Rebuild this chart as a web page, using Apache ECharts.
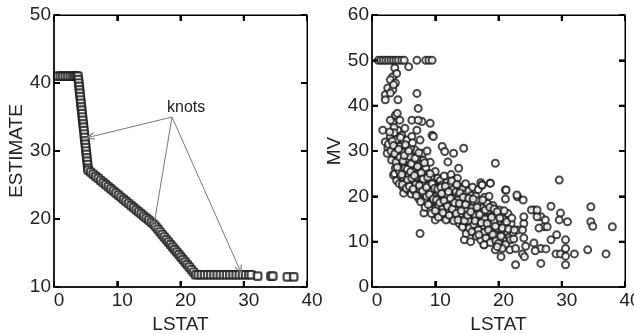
<!DOCTYPE html>
<html><head><meta charset="utf-8">
<script src="https://cdn.jsdelivr.net/npm/echarts@6/dist/echarts.min.js"></script>
<style>html,body{margin:0;padding:0;background:#fff}#c{width:634px;height:334px}</style>
</head><body><div id="c"></div>
<script>
// Left panel: fitted ESTIMATE vs LSTAT
const estimatePoints = [
[0.6,41],[1.0,41],[1.4,41],[1.8,41],[2.2,41],[2.6,41],[3.0,41],[3.3,41],[3.6,41],
[3.8,41.0],[3.86,40.5],[3.92,40.0],[3.97,39.5],[4.03,39.0],[4.09,38.5],[4.15,38.0],[4.21,37.5],[4.26,37.0],[4.32,36.5],[4.38,36.0],[4.44,35.5],[4.50,35.0],[4.55,34.5],[4.61,34.0],[4.67,33.5],[4.73,33.0],[4.79,32.5],[4.84,32.0],[4.90,31.5],[4.96,31.0],[5.02,30.5],[5.08,30.0],[5.13,29.5],[5.19,29.0],[5.25,28.5],[5.31,28.0],[5.37,27.5],
[5.4,27.2],[5.8,26.89],[6.2,26.58],[6.6,26.28],[7.0,25.97],[7.4,25.66],[7.8,25.35],[8.2,25.05],[8.6,24.74],[9.0,24.43],[9.4,24.12],[9.8,23.82],[10.2,23.51],[10.6,23.2],[11.0,22.89],[11.4,22.58],[11.8,22.28],[12.2,21.97],[12.6,21.66],[13.0,21.35],[13.4,21.05],[13.8,20.74],[14.2,20.43],[14.6,20.12],[15.0,19.82],[15.4,19.51],[15.8,19.2],
[16.13,18.83],[16.46,18.46],[16.79,18.09],[17.12,17.72],[17.45,17.35],[17.78,16.98],[18.11,16.61],[18.44,16.24],[18.77,15.87],[19.1,15.5],[19.43,15.13],[19.76,14.76],[20.09,14.39],[20.42,14.02],[20.75,13.65],[21.08,13.28],[21.41,12.91],[21.74,12.54],[22.07,12.17],[22.4,11.8],
[22.8,11.8],[23.3,11.8],[23.8,11.8],[24.3,11.8],[24.8,11.8],[25.3,11.8],[25.8,11.8],[26.3,11.8],[26.8,11.8],[27.3,11.8],[27.8,11.8],[28.3,11.8],[28.8,11.8],[29.3,11.8],[29.8,11.8],[30.3,11.8],[30.8,11.8],[31.2,11.8],
[32.2,11.6],[34.3,11.6],[34.6,11.6],[36.9,11.5],[37.9,11.5]
];
// knot annotation: label and arrow tips
const knotLabel = 'knots';
const knotOrigin = [18.66, 35.0];
const knotTips = [[5.69, 32.06], [15.8, 19.1], [29.4, 12.5]];
// tick values
const xTicks = [0, 10, 20, 30, 40];
const estTicks = [10, 20, 30, 40, 50];
const mvTicks = [0, 10, 20, 30, 40, 50, 60];

const mvPoints = [
[1.0,50],[1.4,50],[1.8,50],[2.2,50],[2.6,50],[3.0,50],[3.4,50],[3.8,50],[4.2,50],[4.7,50],[5.1,50],[5.8,48.6],[7.1,50],[8.5,50],[9.0,50],[9.5,50],
[3.6,48.3],[3.3,46.4],[2.9,45.7],[3.7,45.0],[2.5,43.9],[3.3,43.5],[2.1,42.4],[2.9,42.8],[4.1,41.3],[2.1,41.3],[3.4,44.6],[3.9,47.1],
[7.1,42.7],[7.3,39.4],[1.7,34.6],[3.4,24.7],[7.6,11.8],[9.2,36.1],[9.5,33.5],[10.0,14.8],
[3.7,37.9],[3.3,36.3],[4.4,36.8],[2.9,36.8],[4.1,34.6],[3.5,35.2],[4.0,38.3],[2.9,33.2],[2.5,30.7],[3.3,28.7],[3.7,26.2],[5.5,32.4],[6.3,33.2],[7.1,34.6],[7.9,36.5],[9.7,33.2],[7.6,32.4],[6.8,30.2],[8.1,28.0],[5.5,29.5],[6.3,36.8],[7.3,36.8],[4.0,32.4],[5.0,31.0],
[2.1,32.0],[2.4,29.5],[2.6,31.5],[3.1,28.0],[3.5,34.0],[3.5,30.5],[3.6,25.0],[3.8,32.5],[3.9,23.5],[4.1,29.0],[4.2,27.5],[4.3,22.8],[4.4,31.0],[4.5,24.5],[4.6,26.5],[4.7,33.5],[4.8,29.8],[4.9,22.0],[5.0,24.0],[5.0,20.7],[5.1,27.0],[5.2,35.0],[5.3,23.0],[5.4,25.5],[5.6,21.5],[5.7,28.0],[5.8,24.5],[5.9,26.8],[6.0,22.8],[6.1,30.5],[6.2,20.5],[6.4,25.0],[6.5,27.5],[6.6,23.5],[6.7,21.2],[6.9,26.0],[7.0,24.2],[7.1,28.7],[7.2,22.0],[7.4,19.5],[7.5,25.8],[7.7,23.0],[7.8,27.0],[7.9,20.8],[8.0,29.5],[8.2,24.5],[8.2,16.3],[8.3,21.8],[8.4,19.0],[8.5,26.2],[8.6,23.2],[8.7,30.0],[8.8,20.5],[8.9,25.0],[9.0,22.0],[9.2,27.5],[9.3,18.5],[9.4,24.0],[9.5,20.0],[9.6,21.5],[9.8,23.0],[9.9,19.0],[10.0,25.5],[10.1,17.5],[10.2,22.0],[10.3,20.5],[10.4,24.0],[10.5,18.0],[10.6,16.5],[10.7,21.5],[10.8,23.5],[10.9,19.5],[11.0,15.5],[11.1,31.0],[11.1,22.5],[11.2,17.5],[11.3,20.0],[11.4,24.5],[11.5,29.9],[11.5,18.5],[11.6,16.0],[11.7,21.5],[11.8,23.0],[11.9,19.2],[12.0,27.6],[12.0,15.0],[12.1,17.0],[12.2,20.5],[12.3,22.5],[12.4,18.0],[12.5,24.8],[12.6,16.0],[12.7,19.5],[12.8,21.5],[12.9,29.5],[12.9,17.5],[13.0,23.5],[13.1,15.2],[13.2,19.8],[13.3,21.0],[13.4,18.2],[13.5,24.0],[13.6,16.5],[13.7,26.2],[13.7,20.2],[13.8,14.0],[13.9,22.0],[14.0,17.8],[14.1,19.5],[14.2,15.5],[14.3,21.5],[14.4,13.5],[14.5,30.6],[14.5,18.8],[14.6,10.4],[14.6,16.8],[14.7,20.5],[14.8,22.8],[14.9,14.5],[15.0,19.0],[15.1,17.2],[15.2,12.5],[15.3,21.2],[15.4,15.5],[15.5,18.5],[15.6,10.0],[15.6,13.8],[15.7,20.2],[15.8,16.2],[15.9,22.0],[16.0,14.5],[16.1,18.8],[16.2,12.0],[16.3,17.0],[16.4,20.0],[16.5,15.2],[16.6,13.2],[16.7,19.0],[16.8,21.5],[16.9,11.5],[16.9,16.5],[17.0,14.0],[17.1,18.0],[17.2,23.0],[17.3,12.8],[17.4,22.5],[17.4,15.5],[17.5,17.5],[17.6,13.5],[17.7,9.3],[17.8,19.8],[17.9,14.8],[18.0,16.2],[18.1,12.2],[18.2,18.5],[18.3,13.8],[18.4,15.2],[18.5,20.0],[18.6,11.0],[18.7,22.9],[18.7,14.2],[18.8,16.8],[18.9,12.8],[19.0,15.0],[19.1,18.0],[19.2,13.2],[19.3,10.5],[19.4,16.0],[19.5,27.3],[19.5,8.2],[19.6,14.0],[19.7,12.0],[19.8,15.8],[19.9,11.2],[20.0,13.5],[20.1,17.0],[20.2,10.2],[20.3,14.5],[20.4,6.7],[20.5,12.5],[20.6,8.9],[20.7,15.0],[20.8,11.5],[21.0,13.8],[21.1,21.4],[21.1,19.4],[21.2,10.5],[21.4,12.2],[21.5,16.2],[21.7,11.0],[21.9,10.4],[22.0,14.0],[22.3,12.0],
[3.2,32.2],[3.9,30.0],[4.3,25.6],[4.6,28.2],[5.2,26.2],[5.6,23.6],[6.0,28.8],[6.3,24.0],[6.6,26.9],[6.9,22.6],[7.3,25.0],[7.6,21.4],[7.9,24.0],[8.3,23.0],[8.6,20.0],[8.9,22.4],[9.3,21.0],[9.7,22.6],[10.0,20.0],[10.5,21.0],[11.0,18.8],[11.4,21.2],[11.9,20.4],[12.3,19.0],[12.8,18.4],[13.2,17.0],[13.6,19.2],[14.0,16.2],[14.4,18.0],[14.9,17.0],[15.3,14.6],[15.8,17.4],[16.3,15.8],[16.8,14.0],[17.3,16.4],[17.8,15.0],[18.3,16.8],[18.8,13.6],[19.3,14.6],[19.8,13.0],
[2.8,34.2],[3.0,30.0],[3.4,31.2],[3.6,29.4],[3.8,27.6],[4.0,26.4],[4.2,30.4],[4.4,28.6],[4.5,33.0],[4.7,24.8],[4.8,22.6],[4.9,27.8],[5.1,29.0],[5.3,31.4],[5.4,21.8],[5.6,26.0],[5.8,30.0],[5.9,22.2],[6.1,25.4],[6.2,27.2],[6.4,31.8],[6.5,21.6],[6.7,24.6],[6.8,28.4],[7.0,20.2],[7.2,26.6],[7.4,29.6],[7.5,22.4],[7.7,18.8],[7.8,25.2],[8.0,21.2],[8.1,23.8],[8.3,27.4],[8.4,17.6],[8.6,22.0],[8.8,24.2],[8.9,18.2],[9.1,20.4],[9.2,25.0],[9.4,16.2],[9.5,22.8],[9.7,19.4],[9.9,21.8],[10.0,16.8],[10.2,19.2],[10.4,21.6],[10.5,15.4],[10.7,18.6],[10.9,22.0],[11.0,20.6],[11.2,16.4],[11.4,19.0],[11.6,22.2],[11.7,14.8],[11.9,17.8],[12.1,21.0],[12.2,15.8],[12.4,19.6],[12.6,23.4],[12.7,17.2],[12.9,14.6],[13.1,18.6],[13.3,16.2],[13.4,22.6],[13.6,14.8],[13.8,18.4],[13.9,20.8],[14.1,16.8],[14.3,13.2],[14.4,19.8],[14.6,14.6],[14.8,18.2],[14.9,11.8],[15.1,15.8],[15.3,19.6],[15.4,13.0],[15.6,16.6],[15.8,12.2],[16.0,19.4],[16.1,13.8],[16.3,14.6],[16.5,11.2],[16.6,17.6],[16.8,12.6],[17.0,16.0],[17.2,10.4],[17.3,14.2],[17.5,19.2],[17.7,12.0],[17.9,17.0],[18.0,10.8],[18.2,14.0],[18.4,12.6],[18.6,17.6],[18.7,9.8],[18.9,15.4],[19.1,11.6],[19.3,17.2],[19.5,13.4],[19.6,10.2],[19.8,16.6],[20.0,9.6],[20.2,15.2],[20.4,11.2],[20.6,13.0],[20.9,16.8],[21.1,9.4],[21.3,14.4],[21.6,12.8],[21.8,8.2],[22.1,15.2],[22.4,10.6],
[22.7,4.9],[22.7,8.5],[23.0,12.6],[24.0,14.0],[23.8,12.6],[24.0,10.8],[24.3,9.0],[23.8,7.3],[23.0,19.9],[23.9,19.2],[25.6,17.0],[26.7,15.5],[27.2,13.3],[26.4,13.0],[25.6,9.7],[26.7,8.5],[26.7,5.2],[28.3,17.8],[28.3,10.4],[29.2,11.5],[29.8,16.3],[29.6,14.8],[30.9,14.4],[29.1,7.3],[29.8,7.3],[30.6,8.5],[30.6,4.9],[32.0,7.3],[34.1,8.2],[34.6,17.7],[34.6,14.4],[34.9,13.4],[37.0,7.3],[38.0,13.3],[29.6,23.6],[26.1,15.5],[27.4,14.8],[24.1,6.7],[25.2,17.0],[26.1,17.0],[25.8,8.0],[27.5,8.4],[27.7,13.3],[30.6,10.4],[30.6,6.8],[22.5,12.6],[24.0,15.5],[22.9,20.3],[21.2,21.4],[20.6,8.5],[19.8,8.9],[18.7,22.9],[17.4,22.5],[16.9,11.5],[17.7,9.3]
];

const FONT = 'Liberation Sans, Arial, sans-serif';
const chevron = 'path://M0,10 L5,0 L10,10 L8.4,10 L5,3.2 L1.6,10 Z';
function font() { return {fontSize: 19, color: '#222', fontFamily: FONT}; }
function tick() { return {show: true, inside: true, length: 6, lineStyle: {color: '#000000', width: 2}}; }
function line(w) { return {show: true, onZero: false, lineStyle: {color: '#000000', width: w}}; }

function xAxes(g) {
  return [
    {gridIndex: g, type: 'value', min: 0, max: 40, interval: 10, position: 'bottom',
     name: 'LSTAT', nameLocation: 'middle', nameGap: 27, nameTextStyle: font(),
     axisLine: line(1.5), axisTick: tick(),
     axisLabel: Object.assign({margin: 4, padding: [0, 0, 0, 10]}, font()), splitLine: {show: false}},
    {gridIndex: g, type: 'value', min: 0, max: 40, interval: 10, position: 'top',
     axisLine: line(1), axisTick: tick(), axisLabel: {show: false}, splitLine: {show: false}}
  ];
}
function yAxes(g, min, max, name) {
  return [
    {gridIndex: g, type: 'value', min: min, max: max, interval: 10, position: 'left',
     name: name, nameLocation: 'middle', nameGap: 28, nameRotate: 90, nameTextStyle: font(),
     axisLine: line(1.5), axisTick: tick(),
     axisLabel: Object.assign({margin: 3}, font()), splitLine: {show: false}},
    {gridIndex: g, type: 'value', min: min, max: max, interval: 10, position: 'right',
     axisLine: line(1), axisTick: tick(), axisLabel: {show: false}, splitLine: {show: false}}
  ];
}

const chart = echarts.init(document.getElementById('c'));
chart.setOption({
  animation: false,
  backgroundColor: '#fff',
  grid: [
    {left: 54, top: 15, width: 253, height: 272, outerBoundsMode: 'none', containLabel: false},
    {left: 372, top: 15, width: 253, height: 272, outerBoundsMode: 'none', containLabel: false}
  ],
  xAxis: xAxes(0).concat(xAxes(1)),
  yAxis: yAxes(0, 10, 50, 'ESTIMATE').concat(yAxes(1, 0, 60, 'MV')),
  series: [
    {type: 'scatter', xAxisIndex: 0, yAxisIndex: 0, data: estimatePoints,
     progressive: 0, large: false,
     symbol: 'roundRect', symbolSize: 7.5,
     itemStyle: {color: '#fff', borderColor: '#1a1a1a', borderWidth: 2.2},
     markLine: {
       silent: true, symbol: ['none', chevron], symbolSize: [8, 9],
       lineStyle: {color: '#777', width: 1, type: 'solid'}, label: {show: false},
       data: knotTips.map(t => [{coord: knotOrigin}, {coord: t}])
     }},
    {type: 'scatter', xAxisIndex: 2, yAxisIndex: 2, data: mvPoints,
     progressive: 0, large: false,
     symbol: 'circle', symbolSize: 7,
     itemStyle: {color: '#fff', borderColor: '#1a1a1a', borderWidth: 2}}
  ]
});

// Frame and mirrored ticks, positioned through the chart's own axes
const els = [{type: 'text', left: 167, top: 100, z: 100,
  style: {text: knotLabel, fontSize: 16, fill: '#222', fontFamily: FONT}}];
function frame(xi, yi, yTicks) {
  const xPx = v => chart.convertToPixel({xAxisIndex: xi}, v);
  const yPx = v => chart.convertToPixel({yAxisIndex: yi}, v);
  const l = xPx(xTicks[0]), r = xPx(xTicks[xTicks.length - 1]);
  const b = yPx(yTicks[0]), t = yPx(yTicks[yTicks.length - 1]);
  els.push({type: 'rect', z: 100, silent: true, shape: {x: l, y: t, width: r - l, height: b - t},
    style: {fill: null, stroke: '#000', lineWidth: 1}});
  xTicks.forEach(v => {
    const x = xPx(v);
    els.push({type: 'line', z: 100, silent: true, shape: {x1: x, y1: b, x2: x, y2: b - 6}, style: {stroke: '#000', lineWidth: 2}});
    els.push({type: 'line', z: 100, silent: true, shape: {x1: x, y1: t, x2: x, y2: t + 6}, style: {stroke: '#000', lineWidth: 2}});
  });
  yTicks.forEach(v => {
    const y = yPx(v);
    els.push({type: 'line', z: 100, silent: true, shape: {x1: l, y1: y, x2: l + 6, y2: y}, style: {stroke: '#000', lineWidth: 2}});
    els.push({type: 'line', z: 100, silent: true, shape: {x1: r, y1: y, x2: r - 6, y2: y}, style: {stroke: '#000', lineWidth: 2}});
  });
}
frame(0, 0, estTicks);
frame(2, 2, mvTicks);
chart.setOption({graphic: els});
</script></body></html>
